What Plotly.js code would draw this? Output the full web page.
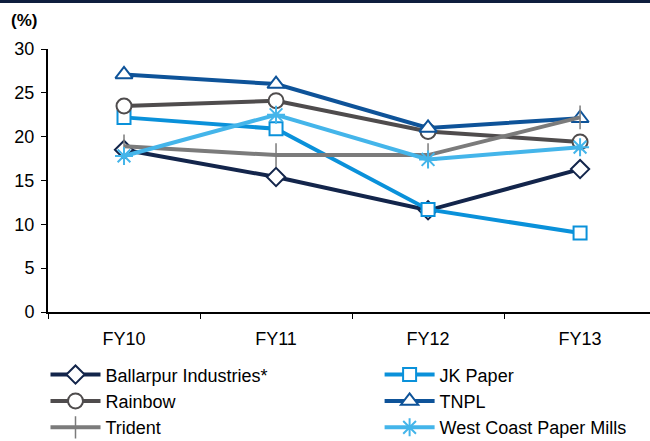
<!DOCTYPE html>
<html>
<head>
<meta charset="utf-8">
<script src="https://cdn.plot.ly/plotly-3.0.1.min.js"></script>
<style>html,body{margin:0;padding:0;background:#fff;}#chart{width:650px;height:441px;}</style>
</head>
<body>
<div id="chart"></div>
<script>
const categories = ["FY10", "FY11", "FY12", "FY13"];
const ballarpur = [18.5, 15.4, 11.6, 16.3];
const jkPaper = [22.2, 20.9, 11.7, 9.0];
const rainbow = [23.5, 24.1, 20.6, 19.4];
const tnpl = [27.1, 26.0, 21.0, 22.1];
const trident = [18.9, 17.9, 17.9, 22.2];
const westCoast = [17.8, 22.5, 17.4, 18.8];
const seriesNames = ["Ballarpur Industries*", "JK Paper", "Rainbow", "TNPL", "Trident", "West Coast Paper Mills"];
const yTicks = [0, 5, 10, 15, 20, 25, 30];

const seriesData = [ballarpur, jkPaper, rainbow, tnpl, trident, westCoast];
const colors = ["#13254b", "#0a91da", "#4f4c4d", "#0e5399", "#7b7b7b", "#44b5ea"];
const symbols = ["diamond", "square", "circle", "triangle-up", "line-ns-open", "asterisk-open"];
const sizes = [14, 13, 15, 15, 17, 15];
const mlw = [2, 2, 2, 2, 1.5, 2];
const legendOf = ["legend", "legend2", "legend", "legend2", "legend", "legend2"];

const traces = seriesData.map((vals, i) => ({
  type: "scatter",
  mode: "lines+markers",
  x: categories,
  y: vals,
  name: seriesNames[i],
  legend: legendOf[i],
  legendgroup: "g" + i,
  line: {color: colors[i], width: 4},
  marker: {symbol: symbols[i], size: sizes[i], color: (symbols[i].endsWith("open") ? colors[i] : "#ffffff"),
           line: {color: colors[i], width: mlw[i]}},
  cliponaxis: false
}));

const legBase = {xref: "container", yref: "container", xanchor: "left", yanchor: "top", y: 0.192,
                 font: {size: 18, color: "#000"}, traceorder: "normal", tracegroupgap: 13, itemwidth: 50,
                 bgcolor: "rgba(0,0,0,0)"};

const layout = {
  width: 650, height: 441,
  margin: {l: 48, r: 0, t: 49, b: 129, autoexpand: false},
  paper_bgcolor: "#ffffff", plot_bgcolor: "#ffffff",
  font: {family: "Liberation Sans, Arial, sans-serif", size: 18, color: "#000"},
  showlegend: true,
  legend: Object.assign({}, legBase, {x: 0.07}),
  legend2: Object.assign({}, legBase, {x: 0.584}),
  xaxis: {type: "category", range: [-0.5, 3.46], showgrid: false, showline: true, linecolor: "#000", linewidth: 2,
          ticks: "outside", tickson: "boundaries", ticklen: 5, tickcolor: "#000", tickwidth: 1, zeroline: false,
          tickfont: {size: 18}, tickangle: 0, automargin: false, ticklabelstandoff: 9},
  yaxis: {range: [0, 30], tickvals: yTicks, showgrid: false, showline: true, linecolor: "#000", linewidth: 2,
          ticks: "outside", ticklen: 5, tickcolor: "#000", tickwidth: 1, zeroline: false, tickfont: {size: 18},
          ticklabelstandoff: 3, automargin: false},
  shapes: [{type: "rect", xref: "paper", yref: "paper", x0: -0.2, x1: 1.1, y0: 1.175, y1: 1.2, fillcolor: "#0e1e3e", line: {width: 0}}],
  annotations: [{text: "<b>(%)</b>", xref: "paper", yref: "paper", x: -0.065, y: 1.107, xanchor: "left", yanchor: "middle",
                 showarrow: false, font: {size: 17}}]
};

Plotly.newPlot("chart", traces, layout, {displayModeBar: false, staticPlot: true});
</script>
</body>
</html>
